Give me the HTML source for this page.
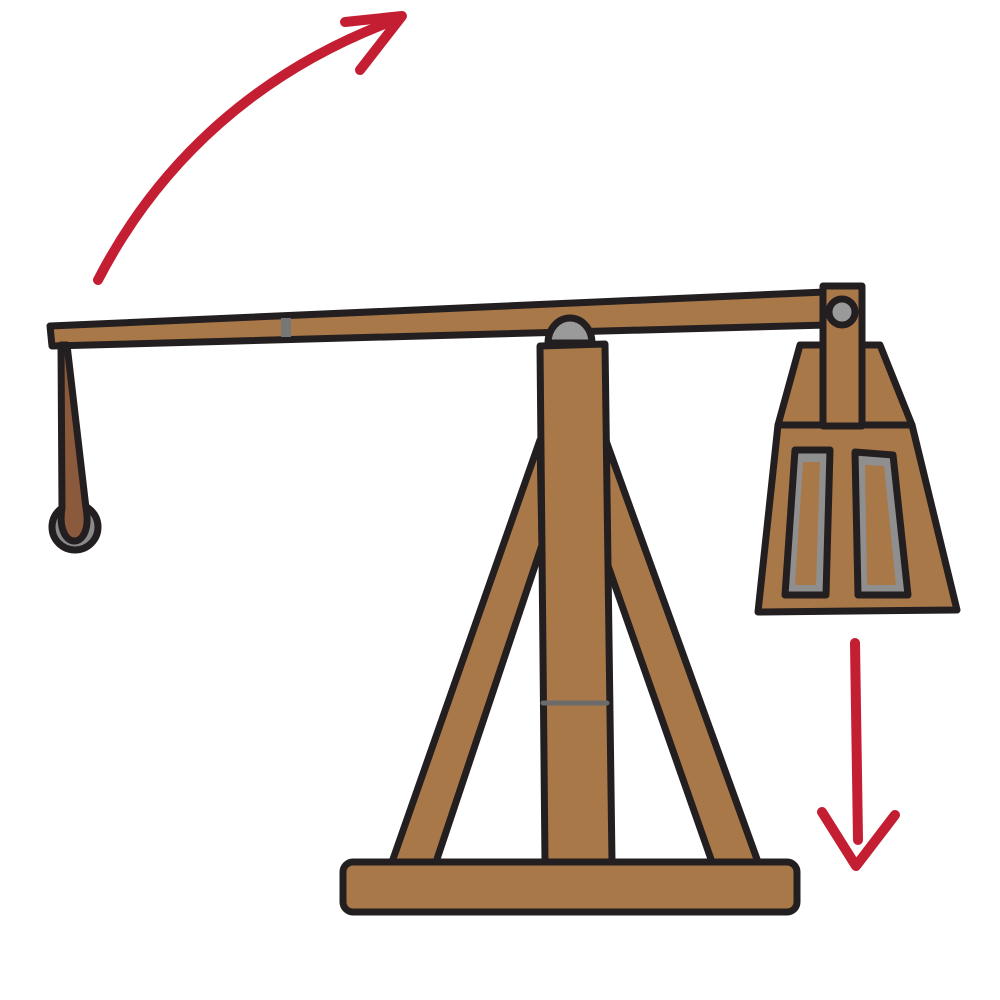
<!DOCTYPE html>
<html><head><meta charset="utf-8"><style>html,body{margin:0;padding:0;background:#fff}svg{display:block}</style></head>
<body>
<svg width="1000" height="1000" viewBox="0 0 1000 1000" xmlns="http://www.w3.org/2000/svg">
<g stroke="#231f20" stroke-width="7" stroke-linejoin="round" stroke-linecap="round">
  <g fill="none" stroke="#c41e33" stroke-width="10">
    <path d="M98,280 C160,160 260,70 395,20"/>
    <path d="M345,22 L402,16 L360,70"/>
  </g>
  <polygon fill="#a97848" points="540,440 542,545 436,862 392,862"/>
  <polygon fill="#a97848" points="605,438 606,560 712,862 758,862"/>
  <polygon fill="#a97848" points="540,346 605,344 612,862 545,862"/>
  <line x1="543" y1="703" x2="607" y2="703" stroke="#6b6b6b" stroke-width="5"/>
  <rect fill="#a97848" x="343" y="862" width="454" height="50" rx="10"/>
  <polygon fill="#a97848" points="50,326 825,292 827,325 52,346"/>
  <path fill="#9a9a9a" d="M548,343 A22,25 0 0 1 592,343 Z"/>
  <rect x="281" y="318" width="10" height="19" fill="#777" stroke="none"/>
  <circle cx="75" cy="527" r="23" fill="#8a8a8a"/>
  <path fill="#8b5a3c" d="M61,345 L67,345 L86,508 C94,552 55,552 62,508 Z"/>
  <polygon fill="#a97848" points="800,345 880,345 912,425 778,425"/>
  <polygon fill="#a97848" points="778,425 912,425 957,610 758,612"/>
  <rect x="823" y="286" width="39" height="140" fill="#a97848"/>
  <circle cx="842" cy="312" r="13" fill="#9a9a9a"/>
  <polygon fill="#8f8f8f" points="795,450 830,450 826,595 785,595"/>
  <polygon fill="#8f8f8f" points="855,452 893,455 908,595 858,595"/>
  <polygon fill="#a97848" stroke="none" points="803,462 820,462 816,585 795,585"/>
  <polygon fill="#a97848" stroke="none" points="865,465 884,466 896,585 867,585"/>
  <g fill="none" stroke="#c41e33" stroke-width="10">
    <path d="M855,643 L858,840"/>
    <path d="M822,812 L856,866 L895,815"/>
  </g>
</g>
</svg>
</body></html>
